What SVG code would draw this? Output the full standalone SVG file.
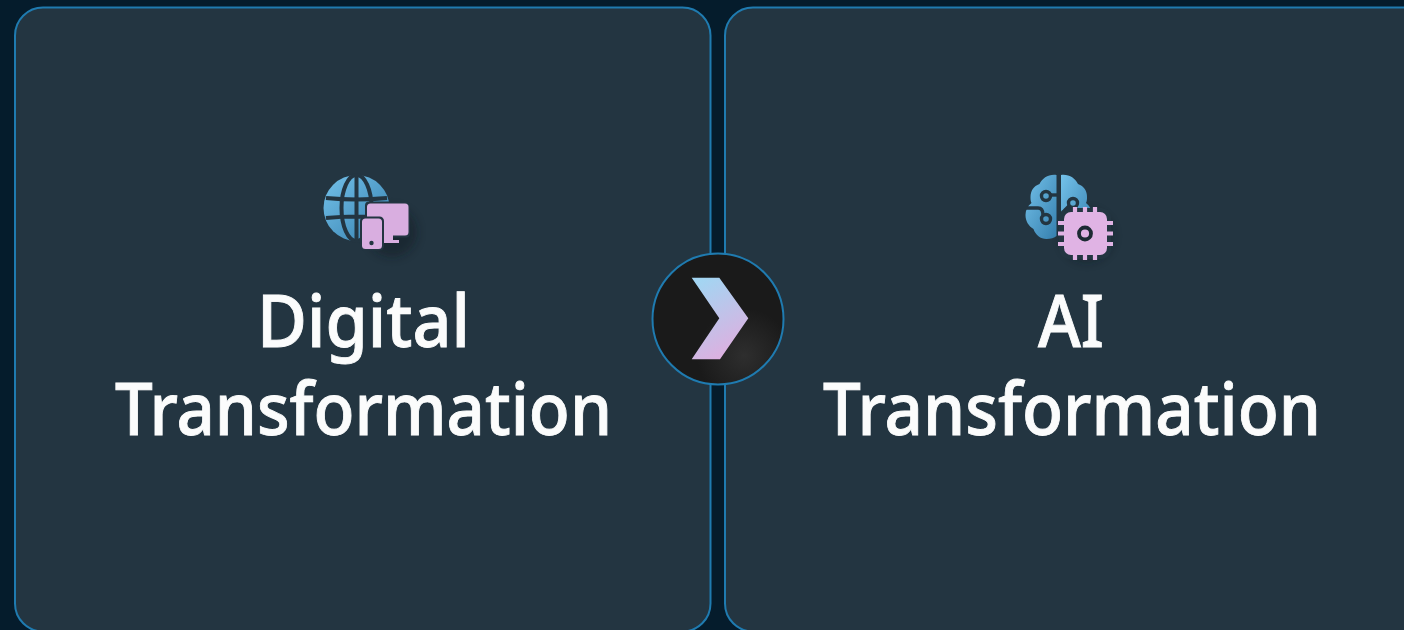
<svg xmlns="http://www.w3.org/2000/svg" width="1404" height="630" viewBox="0 0 1404 630">
<style>
.card{fill:#233541;stroke:#1f7bb0;stroke-width:2}
.t{font-family:"Noto Sans","Open Sans","Liberation Sans",sans-serif;font-size:72px;fill:#fbfcfc;stroke:#fbfcfc;stroke-width:.9;text-anchor:middle;font-weight:500}
</style>
<defs>
<linearGradient id="blue" x1="0" y1="0" x2="1" y2="1"><stop offset="0" stop-color="#74c2ea"/><stop offset="1" stop-color="#357fae"/></linearGradient>
<linearGradient id="chev" x1="0.25" y1="0" x2="0.65" y2="1"><stop offset="0" stop-color="#a3d5f2"/><stop offset="1" stop-color="#e0aedf"/></linearGradient>
<radialGradient id="disc" cx="0.7" cy="0.78" r="0.36"><stop offset="0" stop-color="#2e2e2e"/><stop offset="1" stop-color="#1a1a1a"/></radialGradient>
<filter id="sh" x="-40%" y="-40%" width="180%" height="180%"><feGaussianBlur stdDeviation="5"/></filter>
</defs>
<rect width="1404" height="630" fill="#051c2c"/>
<g id="node-digital">
<rect class="card" x="15" y="7.500" width="695.500" height="624" rx="28"/>
<g id="icon-digital">
<circle cx="392" cy="232" r="25" fill="#0d171d" opacity=".4" filter="url(#sh)"/>
<circle cx="356.500" cy="208" r="33" fill="url(#blue)"/>
<g fill="none" stroke="#233541" stroke-width="4">
<ellipse cx="356.500" cy="208" rx="15" ry="33"/>
<path d="M356.500 175V241M326 198Q356.500 201 387 198M326 218Q356.500 215 387 218"/>
</g>
<rect x="365" y="201.500" width="45" height="36" rx="4" fill="#233541"/>
<rect x="367" y="203.500" width="41.500" height="32" rx="3.500" fill="#d9aee0"/>
<path d="M383 235h10v5h6v3h-22v-3h6z" fill="#d9aee0"/>
<rect x="360" y="216.500" width="24" height="34" rx="4.500" fill="#233541"/>
<rect x="362" y="218.500" width="20" height="30.500" rx="3.500" fill="#d9aee0"/>
<circle cx="371.500" cy="243" r="2.200" fill="#233541"/>
</g>
<text class="t"><tspan x="363.500" y="347" textLength="213" lengthAdjust="spacingAndGlyphs">Digital</tspan><tspan x="363.500" y="435" textLength="497" lengthAdjust="spacingAndGlyphs">Transformation</tspan></text>
</g>
<g id="node-ai">
<rect class="card" x="725" y="7.500" width="720" height="624" rx="28"/>
<g id="icon-ai">
<circle cx="1087" cy="236" r="26" fill="#0d171d" opacity=".4" filter="url(#sh)"/>
<path d="M1056.500 175c-8-1-14 3-17 9-6 2-9 7-9 13 0 2 0 4 1 6-4 3-6 7-6 12 0 6 3 11 8 14 2 6 7 10 13 10 4 0 8-1 10-3z" fill="url(#blue)"/>
<path d="M1061 175c8-1 14 3 17 9 6 2 9 7 9 13 0 2 0 4-1 6 4 3 6 7 6 12 0 6-3 11-8 14-2 6-7 10-13 10-4 0-8-1-10-3z" fill="url(#blue)"/>
<g fill="none" stroke="#233541" stroke-width="3.400">
<circle cx="1046" cy="196" r="4.500"/><path d="M1051 195h7"/>
<circle cx="1046" cy="219" r="4.500"/><path d="M1026 208h12q5 0 5 7"/>
<circle cx="1073" cy="203" r="4.500"/><path d="M1069 206l-4 4v10"/>
</g>
<rect x="1059" y="208" width="52" height="51" rx="9" fill="#233541"/>
<rect x="1064" y="212" width="43" height="43" rx="7" fill="#e0b3e4"/>
<g stroke="#e0b3e4" stroke-width="4.200" fill="none">
<path d="M1075 207v7M1085 207v7M1095 207v7M1075 254v6M1085 254v6M1095 254v6M1058 223h8M1058 233.500h8M1058 244h8M1105 223h8M1105 233.500h8M1105 244h8"/>
</g>
<circle cx="1085" cy="233.500" r="6" fill="#e0b3e4" stroke="#1c2a33" stroke-width="3.800"/>
</g>
<text class="t"><tspan x="1071" y="347" textLength="66" lengthAdjust="spacingAndGlyphs">AI</tspan><tspan x="1072" y="435" textLength="498" lengthAdjust="spacingAndGlyphs">Transformation</tspan></text>
</g>
<g id="connectors">
<circle cx="718" cy="319" r="65.500" fill="url(#disc)" stroke="#1f7bb0" stroke-width="2"/>
<path d="M691.700 277.700H719.300L748.300 318.300L720 359.300H691.700L719.300 318.300Z" fill="url(#chev)"/>
</g>
</svg>
